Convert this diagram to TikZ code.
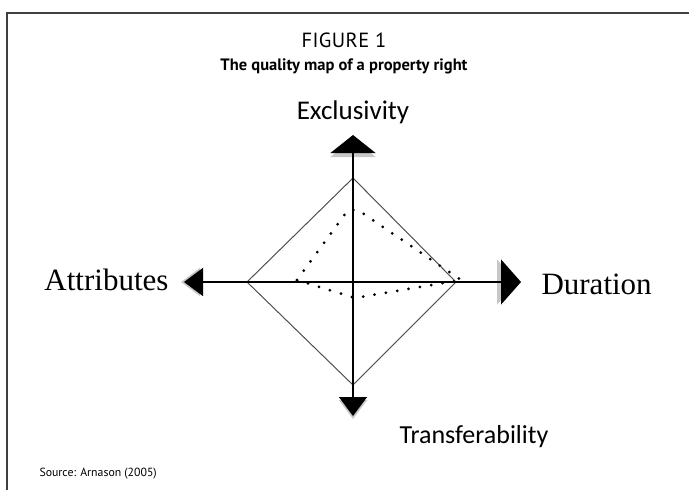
\documentclass[tikz,border=0pt]{standalone}
\usepackage{fontspec}
\setmainfont{Liberation Serif}
\newfontfamily\capfont{PT Sans}
\newfontfamily\axisfont{Carlito}
\usepackage{tikz}
\usetikzlibrary{arrows.meta,calc,positioning}

\begin{document}
\begin{tikzpicture}[x=1pt,y=-1pt]
\tikzset{frame/.style = {draw=black!75,line width=1.4pt}}
\tikzset{rim/.style = {draw=black!70,line width=0.9pt}}
\tikzset{dots/.style = {line width=3pt,line cap=round,dash pattern=on 0pt off 11.5pt}}
\tikzset{axis/.style = {line width=1.3pt}}
\useasboundingbox (0,0) rectangle (689,490);
\draw[frame] (7,490) -- (7,13) -- (689,13);
% caption
\node (fig) at (344,40) {\capfont\addfontfeatures{LetterSpace=2}\fontsize{20.5}{23}\selectfont FIGURE 1};
\node (title) at (344,66) {\capfont\bfseries\fontsize{16.5}{19}\selectfont The quality map of a property right};
\node[anchor=west] (src) at (36,474) {\capfont\fontsize{11.8}{14}\selectfont Source: Arnason (2005)};
% axis ends
\coordinate (o) at (353,282);
\coordinate (n) at (353,135);
\coordinate (s) at (353,416);
\coordinate (w) at (184,282);
\coordinate (e) at (521,282);
% outer diamond
\coordinate (dn) at (353,178);
\coordinate (de) at (456,282);
\coordinate (ds) at (353,385);
\coordinate (dw) at (247,282);
\draw[rim,black!18,shift={(-1.5,1.5)}] (dn) -- (de) -- (ds) -- (dw) -- cycle;
\draw[rim] (dn) -- (de) -- (ds) -- (dw) -- cycle;
% inner dotted shape
\coordinate (qw) at (297,280);
\coordinate (qn1) at (348,210);
\coordinate (qn2) at (358,210);
\coordinate (qe) at (461,280);
\coordinate (qs) at (355,298);
\draw[dots,black!20,shift={(0.5,4.5)}] (qw) -- (qn1) -- (qn2) -- (qe);
\draw[dots,black!20,shift={(0.5,4.5)}] (qw) -- (qs) -- (qe);
\draw[dots] (qw) -- (qn1) -- (qn2) -- (qe);
\draw[dots] (qw) -- (qs) -- (qe);
% axes
\draw[axis,black!22,line width=2pt,
  {Triangle[width=28pt,length=19pt]}-{Triangle[width=45pt,length=20pt]}] ($(w)+(-3,0)$) -- ($(e)+(-4,0)$);
\draw[axis,black!22,line width=2pt,
  {Triangle[width=45pt,length=18pt]}-{Triangle[width=28pt,length=19pt]}] ($(n)+(0,4)$) -- ($(s)+(0,3)$);
\draw[axis,{Triangle[width=28pt,length=19pt]}-{Triangle[width=45pt,length=20pt]}] (w) -- (e);
\draw[axis,{Triangle[width=45pt,length=18pt]}-{Triangle[width=28pt,length=19pt]}] (n) -- (s);
% axis labels
\node (excl) at (353,112) {\axisfont\fontsize{27}{30}\selectfont Exclusivity};
\node[anchor=west] (trans) at (396,437) {\axisfont\fontsize{26}{30}\selectfont Transferability};
\node[anchor=east] (attr) at (172,280) {\fontsize{31}{34}\selectfont Attributes};
\node[anchor=west] (dur) at (538,284) {\fontsize{31}{34}\selectfont Duration};
\end{tikzpicture}
\end{document}
